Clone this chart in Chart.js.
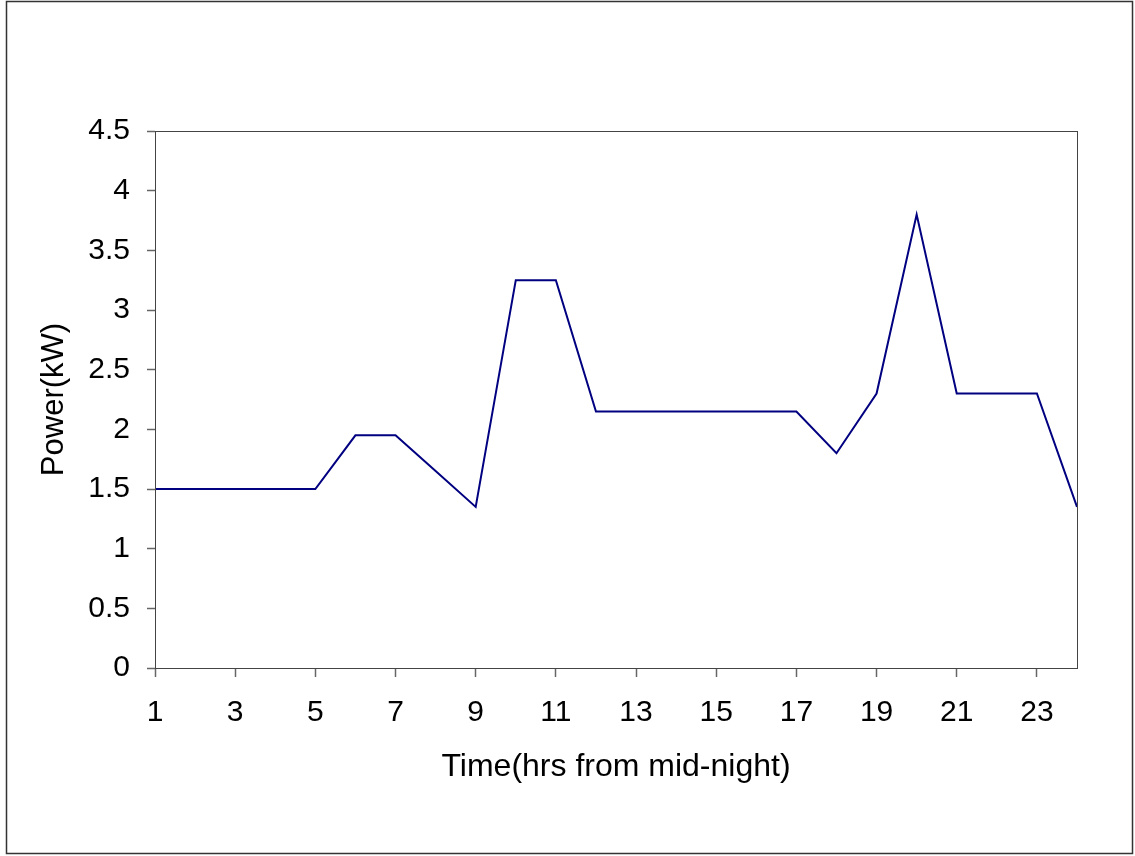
<!DOCTYPE html>
<html>
<head>
<meta charset="utf-8">
<script src="https://cdn.jsdelivr.net/npm/chart.js@4/dist/chart.umd.min.js"></script>
<style>
  html, body { margin: 0; padding: 0; background: #fff; }
  #wrap { width: 1135px; height: 856px; }
</style>
</head>
<body>
<div id="wrap"><canvas id="myChart" width="1135" height="856"></canvas></div>
<script>
// hours 1..24
var hours = ["1","2","3","4","5","6","7","8","9","10","11","12","13","14","15","16","17","18","19","20","21","22","23","24"];
var power = [1.5, 1.5, 1.5, 1.5, 1.5, 1.95, 1.95, 1.65, 1.35, 3.25, 3.25, 2.15, 2.15, 2.15, 2.15, 2.15, 2.15, 1.8, 2.3, 3.8, 2.3, 2.3, 2.3, 1.35];
var yTicks = [0, 0.5, 1, 1.5, 2, 2.5, 3, 3.5, 4, 4.5];

var fontFam = "'Liberation Sans', Arial, sans-serif";

// frame round the whole picture + box round the plot area
var frames = {
  id: "frames",
  afterDraw: function (chart) {
    var ctx = chart.ctx;
    var a = chart.chartArea;
    ctx.save();
    ctx.strokeStyle = "#333";
    ctx.lineWidth = 1.5;
    ctx.strokeRect(6.5, 1.5, 1126, 852);
    ctx.lineWidth = 1;
    ctx.strokeStyle = "#444";
    ctx.strokeRect(Math.round(a.left) + 0.5, Math.round(a.top) + 0.5, Math.round(a.right - a.left), Math.round(a.bottom - a.top));
    ctx.restore();
  }
};

new Chart("myChart", {
  type: "line",
  data: {
    labels: hours,
    datasets: [{
      data: power,
      borderColor: "#000080",
      borderWidth: 2,
      pointRadius: 0,
      tension: 0,
      fill: false
    }]
  },
  options: {
    responsive: false,
    animation: false,
    layout: { padding: { top: 131, right: 58, bottom: 0, left: 0 } },
    plugins: { legend: { display: false }, tooltip: { enabled: false } },
    scales: {
      x: {
        offset: false,
        afterFit: function (s) { s.height = 188; },
        grid: {
          drawOnChartArea: false,
          tickLength: 9,
          tickColor: function (c) { return c.index % 2 === 0 ? "#666" : "rgba(0,0,0,0)"; },
          tickWidth: 1.5
        },
        border: { display: false },
        ticks: {
          autoSkip: false,
          maxRotation: 0,
          padding: 18,
          color: "#000",
          font: { family: fontFam, size: 30 },
          callback: function (v, i) { return i % 2 === 0 ? hours[i] : ""; }
        },
        title: {
          display: true,
          text: "Time(hrs from mid-night)",
          color: "#000",
          font: { family: fontFam, size: 32 },
          padding: { top: 0, bottom: 70 }
        }
      },
      y: {
        min: 0,
        max: 4.5,
        afterFit: function (s) { s.width = 155; },
        afterBuildTicks: function (s) { s.ticks = yTicks.map(function (v) { return { value: v }; }); },
        grid: {
          drawOnChartArea: false,
          tickLength: 8,
          tickColor: "#666",
          tickWidth: 1.5
        },
        border: { display: false },
        ticks: {
          padding: 17,
          color: "#000",
          font: { family: fontFam, size: 30 },
          callback: function (v) { return String(v); }
        },
        title: {
          display: true,
          text: "Power(kW)",
          color: "#000",
          font: { family: fontFam, size: 31 },
          padding: { top: 36, bottom: 0 }
        }
      }
    }
  },
  plugins: [frames]
});
</script>
</body>
</html>
